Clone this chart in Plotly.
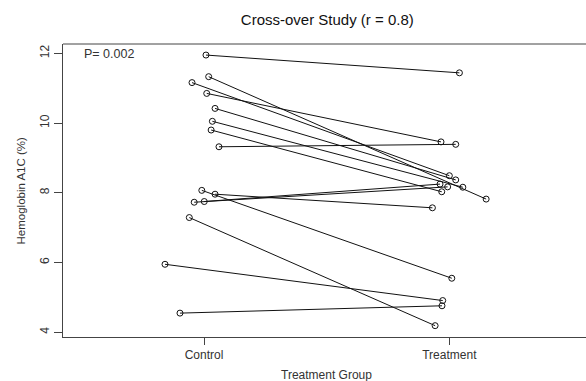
import plotly.graph_objects as go

# Values
group_labels = ["Control", "Treatment"]
control_hba1c = [11.95, 11.33, 11.16, 10.85, 10.42, 10.05, 9.80, 9.32, 8.07, 7.96, 7.75, 7.73, 7.29, 5.95, 4.55]
treatment_hba1c = [11.44, 7.82, 8.49, 9.46, 8.37, 8.16, 8.03, 9.39, 5.55, 7.57, 8.25, 8.17, 4.19, 4.91, 4.76]
# jittered group positions (group 1 = Control, group 2 = Treatment)
control_pos = [1.008, 1.019, 0.951, 1.011, 1.045, 1.034, 1.029, 1.061, 0.991, 1.045, 1.001, 0.960, 0.940, 0.841, 0.902]
treatment_pos = [2.041, 2.150, 2.000, 1.966, 2.026, 2.055, 1.969, 2.026, 2.010, 1.931, 1.962, 1.993, 1.942, 1.973, 1.970]
y_ticks = [4, 6, 8, 10, 12]
p_value_text = "P= 0.002"

FONT = "Liberation Sans, Arial, sans-serif"
INK = "#333333"
AXIS = "#444444"

lx, ly = [], []
for cx, cy, tx, ty in zip(control_pos, control_hba1c, treatment_pos, treatment_hba1c):
    lx += [cx, tx, None]
    ly += [cy, ty, None]

fig = go.Figure()
fig.add_trace(go.Scatter(x=lx, y=ly, mode="lines",
                         line=dict(color="#111111", width=1), hoverinfo="skip", showlegend=False))
fig.add_trace(go.Scatter(x=control_pos + treatment_pos, y=control_hba1c + treatment_hba1c,
                         mode="markers", showlegend=False, hoverinfo="skip",
                         marker=dict(symbol="circle-open", size=6, color="#111111", line=dict(width=1))))

fig.update_layout(
    width=586, height=381,
    margin=dict(l=63, r=0, t=44, b=44, autoexpand=False),
    paper_bgcolor="white", plot_bgcolor="white",
    font=dict(family=FONT, size=12, color=INK),
    title=dict(text="Cross-over Study (r = 0.8)", x=(63 + 591.6) / 2 / 586, xanchor="center",
               y=1 - 20 / 381, yanchor="middle", font=dict(size=15, color="#111111", family=FONT)),
    xaxis=dict(range=[0.4252, 2.557], tickvals=[1, 2], ticktext=group_labels, automargin=False,
               showgrid=False, zeroline=False, showline=True, linecolor=AXIS, linewidth=1,
               mirror=False, ticks="outside", ticklen=7, tickcolor=AXIS,
               tickfont=dict(size=12, color=INK, family=FONT)),
    yaxis=dict(range=[3.865, 12.267], tickvals=y_ticks, automargin=False,
               showgrid=False, zeroline=False, showline=True, linecolor=AXIS, linewidth=1,
               ticks="outside", ticklen=8, tickcolor=AXIS, tickangle=-90,
               tickfont=dict(size=12, color=INK, family=FONT)),
    shapes=[dict(type="line", xref="paper", yref="paper", x0=0, x1=1.02, y0=1, y1=1,
                 line=dict(color=AXIS, width=1))],
    annotations=[
        dict(text="Treatment Group", xref="paper", yref="paper", x=(326 - 63) / 523, y=-(375 - 337) / 293,
             xanchor="center", yanchor="middle", showarrow=False, font=dict(size=12, color=INK)),
        dict(text="Hemoglobin A1C (%)", xref="paper", yref="paper", x=-(63 - 20) / 523, y=0.5,
             xanchor="center", yanchor="middle", textangle=-90, showarrow=False,
             font=dict(size=11.5, color=INK)),
        dict(text=p_value_text, xref="paper", yref="paper", x=(81.7 - 63) / 523, y=(337 - 54.3) / 293,
             xanchor="left", yanchor="middle", showarrow=False, font=dict(size=12.5, color=INK)),
    ],
)

fig.write_html("out.html", config={"displayModeBar": False},
               post_script="document.body.style.margin='0';document.body.style.overflow='hidden';")
